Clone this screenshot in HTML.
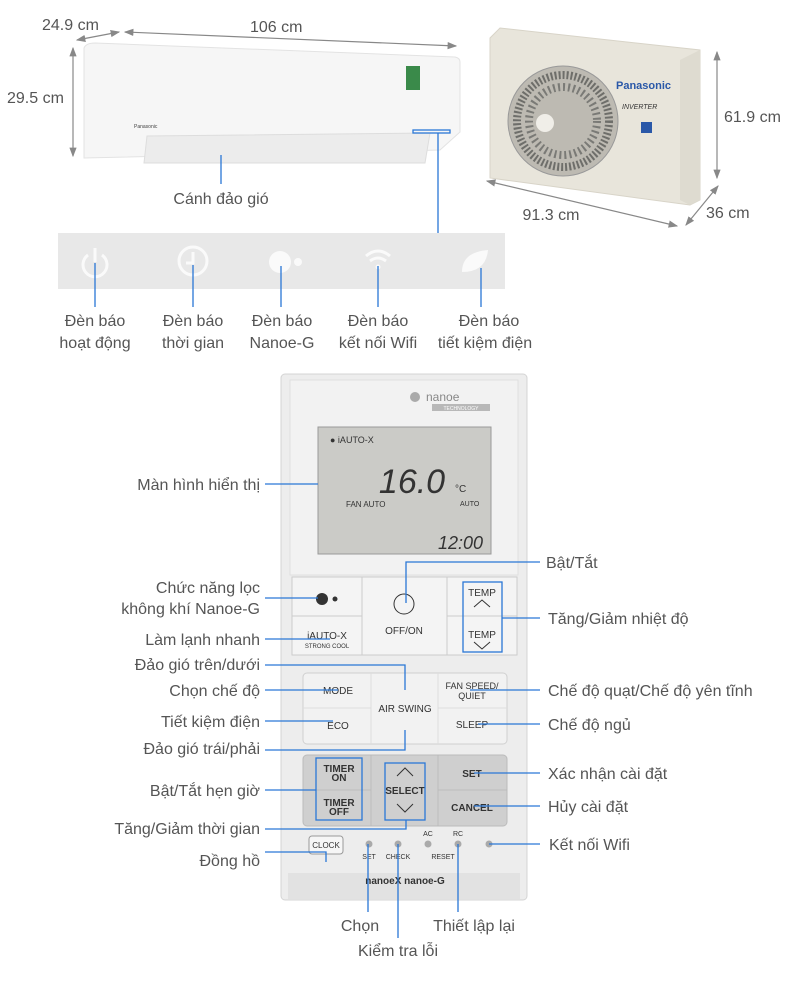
<!DOCTYPE html>
<html><head><meta charset="utf-8"><style>
html,body{margin:0;padding:0;background:#fff}
svg{display:block}
text{font-family:"Liberation Sans",sans-serif}
.l{font-size:16px;fill:#555}
.b{stroke:#2a77d6;stroke-width:1.3;fill:none}
.g{stroke:#888;stroke-width:1.2;fill:none}
.k{font-size:10px;fill:#333}
</style></head><body>
<svg width="800" height="982" viewBox="0 0 800 982" xmlns="http://www.w3.org/2000/svg">
<defs><marker id="a" markerWidth="8" markerHeight="8" refX="7" refY="4" orient="auto-start-reverse"><path d="M0,1 L8,4 L0,7z" fill="#888"/></marker></defs>
<!-- indoor unit -->
<path d="M84,48 Q86,43 95,43 L455,57 Q460,58 460,62 L460,132 L440,150 L84,158z" fill="#f6f6f6" stroke="#e3e3e3"/>
<path d="M147,136 L430,133 L425,163 L144,163z" fill="#ececec" stroke="#ddd"/>
<rect x="406" y="66" width="14" height="24" fill="#3a8a4a"/>
<text x="134" y="128" font-size="5" fill="#444">Panasonic</text>
<line class="g" x1="125" y1="32" x2="456" y2="46" marker-start="url(#a)" marker-end="url(#a)"/>
<line class="g" x1="77" y1="40" x2="119" y2="32" marker-start="url(#a)" marker-end="url(#a)"/>
<line class="g" x1="73" y1="48" x2="73" y2="156" marker-start="url(#a)" marker-end="url(#a)"/>
<text class="l" x="42" y="30">24.9 cm</text>
<text class="l" x="250" y="32">106 cm</text>
<text class="l" x="7" y="103">29.5 cm</text>
<line class="b" x1="221" y1="155" x2="221" y2="184"/>
<text class="l" x="221" y="204" text-anchor="middle">Cánh đảo gió</text>
<rect x="413" y="130" width="37" height="3" class="b"/>
<line class="b" x1="438" y1="133" x2="438" y2="233"/>
<!-- outdoor -->
<path d="M490,38 L500,28 L700,50 L700,200 L690,205 L490,178z" fill="#e8e5db" stroke="#d8d4c8"/>
<path d="M680,60 L700,50 L700,200 L690,205 L680,200z" fill="#dedbd0"/>
<circle cx="563" cy="121" r="55" fill="#bdbab2" stroke="#999"/>
<circle cx="563" cy="121" r="46" fill="none" stroke="#6e6e6a" stroke-width="8" stroke-dasharray="2 2"/>
<circle cx="563" cy="121" r="34" fill="none" stroke="#7a7a76" stroke-width="8" stroke-dasharray="2 3"/>
<circle cx="545" cy="123" r="9" fill="#f0eee8"/>
<text x="616" y="89" font-size="11" font-weight="bold" fill="#2a58a8">Panasonic</text>
<text x="622" y="109" font-size="7" font-style="italic" fill="#333">INVERTER</text>
<rect x="641" y="122" width="11" height="11" fill="#2a58a8"/>
<line class="g" x1="717" y1="52" x2="717" y2="178" marker-start="url(#a)" marker-end="url(#a)"/>
<line class="g" x1="487" y1="181" x2="677" y2="226" marker-start="url(#a)" marker-end="url(#a)"/>
<line class="g" x1="686" y1="225" x2="718" y2="186" marker-start="url(#a)" marker-end="url(#a)"/>
<text class="l" x="724" y="122">61.9 cm</text>
<text class="l" x="551" y="220" text-anchor="middle">91.3 cm</text>
<text class="l" x="706" y="218">36 cm</text>
<!-- indicator panel -->
<rect x="58" y="233" width="447" height="56" fill="#e8e8e8"/>
<g fill="none" stroke="#fafafa" stroke-width="3">
<path d="M88,255 A12,12 0 1 0 102,255"/><line x1="95" y1="248" x2="95" y2="262"/>
<circle cx="193" cy="261" r="14"/><path d="M193,252 V263 H186"/>
</g>
<circle cx="280" cy="262" r="11" fill="#fafafa"/><circle cx="298" cy="262" r="4" fill="#fafafa"/>
<g fill="none" stroke="#fafafa" stroke-width="3"><path d="M366,256 Q378,246 390,256"/><path d="M370,261 Q378,255 386,261"/></g>
<circle cx="378" cy="267" r="2.5" fill="#fafafa"/>
<path d="M462,272 Q462,252 488,250 Q486,272 462,272z" fill="#fafafa"/>
<g class="b"><line x1="95" y1="263" x2="95" y2="307"/><line x1="193" y1="265" x2="193" y2="307"/><line x1="281" y1="266" x2="281" y2="307"/><line x1="378" y1="266" x2="378" y2="307"/><line x1="481" y1="268" x2="481" y2="307"/></g>
<g class="l" text-anchor="middle">
<text x="95" y="326">Đèn báo</text><text x="95" y="348">hoạt động</text>
<text x="193" y="326">Đèn báo</text><text x="193" y="348">thời gian</text>
<text x="282" y="326">Đèn báo</text><text x="282" y="348">Nanoe-G</text>
<text x="378" y="326">Đèn báo</text><text x="378" y="348">kết nối Wifi</text>
<text x="489" y="326">Đèn báo</text><text x="485" y="348">tiết kiệm điện</text>
</g>
<!-- remote -->
<rect x="281" y="374" width="246" height="526" rx="4" fill="#ededed" stroke="#d4d4d4"/>
<rect x="290" y="380" width="228" height="195" fill="#f2f2f2" stroke="#e0e0e0"/>
<circle cx="415" cy="397" r="5" fill="#aaa"/><text x="426" y="401" font-size="12" fill="#888">nanoe</text>
<rect x="432" y="404" width="58" height="7" fill="#b8b8b8"/><text x="461" y="410" font-size="5" fill="#fff" text-anchor="middle">TECHNOLOGY</text>
<rect x="318" y="427" width="173" height="127" fill="#cbcbc7" stroke="#999"/>
<text x="330" y="443" font-size="9" fill="#333">● iAUTO-X</text>
<text x="412" y="493" font-size="34" fill="#333" text-anchor="middle" font-style="italic">16.0</text>
<text x="455" y="492" font-size="10" fill="#333">°C</text>
<text x="346" y="507" font-size="8" fill="#333">FAN AUTO</text><text x="460" y="506" font-size="7" fill="#333">AUTO</text>
<text x="438" y="549" font-size="18" fill="#333" font-style="italic">12:00</text>
<!-- row1 -->
<g fill="#f4f4f4" stroke="#ccc">
<rect x="292" y="577" width="70" height="39"/><rect x="292" y="616" width="70" height="39"/>
<rect x="362" y="577" width="85" height="78"/>
<rect x="447" y="577" width="70" height="39"/><rect x="447" y="616" width="70" height="39"/>
</g>
<circle cx="322" cy="599" r="6" fill="#333"/><circle cx="335" cy="599" r="2.5" fill="#333"/>
<circle cx="404" cy="604" r="10" fill="none" stroke="#333"/>
<text x="404" y="634" font-size="10" fill="#333" text-anchor="middle">OFF/ON</text>
<text x="327" y="639" font-size="10" fill="#333" text-anchor="middle">iAUTO-X</text><text x="327" y="648" font-size="6" fill="#333" text-anchor="middle">STRONG COOL</text>
<text x="482" y="596" class="k" text-anchor="middle">TEMP</text><path d="M474,607 L482,600 L490,607" fill="none" stroke="#333"/>
<text x="482" y="638" class="k" text-anchor="middle">TEMP</text><path d="M474,642 L482,649 L490,642" fill="none" stroke="#333"/>
<!-- row2 -->
<rect x="303" y="673" width="204" height="71" rx="4" fill="#f2f2f2" stroke="#d0d0d0"/>
<g stroke="#ddd"><line x1="371" y1="673" x2="371" y2="744"/><line x1="438" y1="673" x2="438" y2="744"/><line x1="303" y1="708" x2="371" y2="708"/><line x1="438" y1="708" x2="507" y2="708"/></g>
<text x="338" y="694" class="k" text-anchor="middle">MODE</text><text x="338" y="729" class="k" text-anchor="middle">ECO</text>
<text x="405" y="712" class="k" text-anchor="middle">AIR SWING</text>
<text x="472" y="689" font-size="9" fill="#333" text-anchor="middle">FAN SPEED/</text><text x="472" y="699" font-size="9" fill="#333" text-anchor="middle">QUIET</text>
<text x="472" y="728" class="k" text-anchor="middle">SLEEP</text>
<!-- row3 -->
<rect x="303" y="755" width="204" height="71" rx="4" fill="#cfcfcf" stroke="#bbb"/>
<g stroke="#bcbcbc"><line x1="371" y1="755" x2="371" y2="826"/><line x1="438" y1="755" x2="438" y2="826"/><line x1="303" y1="790" x2="371" y2="790"/><line x1="438" y1="790" x2="507" y2="790"/></g>
<text x="339" y="772" class="k" text-anchor="middle" font-weight="bold">TIMER</text><text x="339" y="781" class="k" text-anchor="middle" font-weight="bold">ON</text>
<text x="339" y="806" class="k" text-anchor="middle" font-weight="bold">TIMER</text><text x="339" y="815" class="k" text-anchor="middle" font-weight="bold">OFF</text>
<text x="405" y="794" class="k" text-anchor="middle" font-weight="bold">SELECT</text>
<path d="M397,776 L405,768 L413,776 M397,804 L405,812 L413,804" fill="none" stroke="#333"/>
<text x="472" y="777" class="k" text-anchor="middle" font-weight="bold">SET</text><text x="472" y="811" class="k" text-anchor="middle" font-weight="bold">CANCEL</text>
<!-- bottom -->
<rect x="309" y="836" width="34" height="18" rx="3" fill="#f6f6f6" stroke="#999"/><text x="326" y="848" font-size="8" fill="#333" text-anchor="middle">CLOCK</text>
<g fill="#aaa"><circle cx="369" cy="844" r="3.5"/><circle cx="398" cy="844" r="3.5"/><circle cx="428" cy="844" r="3.5"/><circle cx="458" cy="844" r="3.5"/><circle cx="489" cy="844" r="3.5"/></g>
<g font-size="7" fill="#333" text-anchor="middle"><text x="369" y="859">SET</text><text x="398" y="859">CHECK</text><text x="428" y="836">AC</text><text x="458" y="836">RC</text><text x="443" y="859">RESET</text></g>
<rect x="288" y="873" width="232" height="26" fill="#e2e2e2"/>
<text x="405" y="884" font-size="10" fill="#333" text-anchor="middle" font-weight="bold">nanoeX  nanoe-G</text>
<!-- blue boxes -->
<rect class="b" x="463" y="582" width="39" height="70"/>
<rect class="b" x="316" y="758" width="46" height="62"/>
<rect class="b" x="385" y="763" width="40" height="57"/>
<!-- leaders -->
<g class="b">
<line x1="265" y1="484" x2="318" y2="484"/>
<line x1="265" y1="598" x2="318" y2="598"/>
<line x1="265" y1="639" x2="330" y2="639"/>
<polyline points="265,665 405,665 405,690"/>
<line x1="265" y1="690" x2="338" y2="690"/>
<line x1="265" y1="721" x2="333" y2="721"/>
<polyline points="265,750 405,750 405,730"/>
<line x1="265" y1="790" x2="316" y2="790"/>
<polyline points="265,829 406,829 406,820"/>
<polyline points="265,852 326,852 326,862"/>
<polyline points="540,562 406,562 406,603"/>
<line x1="502" y1="618" x2="540" y2="618"/>
<line x1="470" y1="690" x2="540" y2="690"/>
<line x1="478" y1="724" x2="540" y2="724"/>
<line x1="474" y1="773" x2="540" y2="773"/>
<line x1="474" y1="806" x2="540" y2="806"/>
<line x1="489" y1="844" x2="540" y2="844"/>
<line x1="368" y1="844" x2="368" y2="912"/>
<line x1="398" y1="844" x2="398" y2="938"/>
<line x1="458" y1="844" x2="458" y2="912"/>
</g>
<g class="l" text-anchor="end">
<text x="260" y="490">Màn hình hiển thị</text>
<text x="260" y="593">Chức năng lọc</text><text x="260" y="614">không khí Nanoe-G</text>
<text x="260" y="645">Làm lạnh nhanh</text>
<text x="260" y="670">Đảo gió trên/dưới</text>
<text x="260" y="696">Chọn chế độ</text>
<text x="260" y="727">Tiết kiệm điện</text>
<text x="260" y="754">Đảo gió trái/phải</text>
<text x="260" y="796">Bật/Tắt hẹn giờ</text>
<text x="260" y="834">Tăng/Giảm thời gian</text>
<text x="260" y="866">Đồng hồ</text>
</g>
<g class="l">
<text x="546" y="568">Bật/Tắt</text>
<text x="548" y="624">Tăng/Giảm nhiệt độ</text>
<text x="548" y="696">Chế độ quạt/Chế độ yên tĩnh</text>
<text x="548" y="730">Chế độ ngủ</text>
<text x="548" y="779">Xác nhận cài đặt</text>
<text x="548" y="812">Hủy cài đặt</text>
<text x="549" y="850">Kết nối Wifi</text>
</g>
<g class="l" text-anchor="middle">
<text x="360" y="931">Chọn</text>
<text x="398" y="956">Kiểm tra lỗi</text>
<text x="474" y="931">Thiết lập lại</text>
</g>
</svg>
</body></html>
